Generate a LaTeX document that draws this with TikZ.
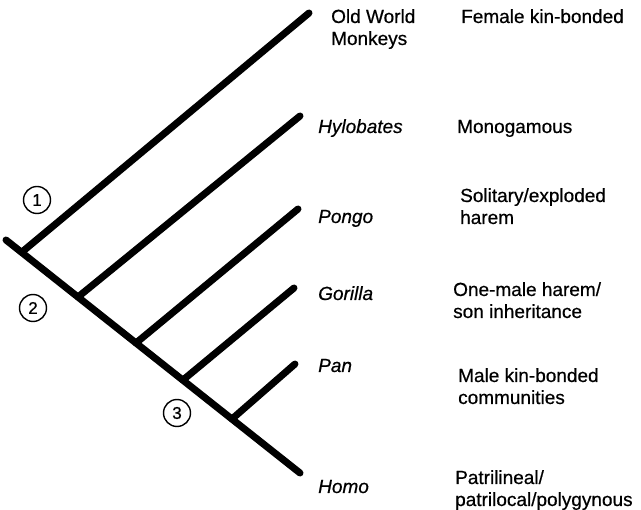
\documentclass[tikz,border=0pt]{standalone}
\usepackage{fontspec}
\setmainfont{Liberation Sans}
\begin{document}
\begin{tikzpicture}[x=1pt,y=-1pt,
  branch/.style={line width=7pt,line cap=round},
  taxon/.style={anchor=base west,inner sep=0pt,font=\fontsize{19}{22}\selectfont\itshape\addfontfeature{FakeBold=0.6}},
  trait/.style={anchor=base west,inner sep=0pt,align=left,font=\fontsize{19}{22}\selectfont\addfontfeature{FakeBold=0.6}},
  num/.style={draw,circle,line width=1.4pt,minimum size=27pt,inner sep=0pt,font=\fontsize{17}{17}\selectfont\addfontfeature{FakeBold=0.8}}]
\useasboundingbox (0,0) rectangle (641,510);
% trunk and branch points
\coordinate (root) at (6,240);
\coordinate (homo) at (300,473);
\coordinate (b1) at (22,252);  \coordinate (t1) at (309,13);
\coordinate (b2) at (78,297);  \coordinate (t2) at (300,116);
\coordinate (b3) at (136,343); \coordinate (t3) at (298,209);
\coordinate (b4) at (183,380); \coordinate (t4) at (294,288);
\coordinate (b5) at (232,419); \coordinate (t5) at (295,364);
\draw[branch] (root) -- (homo);
\draw[branch] (b1) -- (t1);
\draw[branch] (b2) -- (t2);
\draw[branch] (b3) -- (t3);
\draw[branch] (b4) -- (t4);
\draw[branch] (b5) -- (t5);
% taxa (multi-line nodes are placed at the baseline of their last line)
\node[trait] (owm) at (331,45) {Old World\\Monkeys};
\node[taxon] (hyl) at (318,133) {Hylobates};
\node[taxon] (pon) at (318,223) {Pongo};
\node[taxon] (gor) at (318,300) {Gorilla};
\node[taxon] (pan) at (318,372) {Pan};
\node[taxon] (hom) at (318,493) {Homo};
% social systems
\node[trait] (f1) at (461,23) {Female kin-bonded};
\node[trait] (f2) at (457,133) {Monogamous};
\node[trait] (f3) at (460,224) {Solitary/exploded\\harem};
\node[trait] (f4) at (453,318) {One-male harem/\\son inheritance};
\node[trait] (f5) at (458,404) {Male kin-bonded\\communities};
\node[trait] (f6) at (455,506) {Patrilineal/\\patrilocal/polygynous};
% numbered circles
\node[num] (c1) at (37,200) {1};
\node[num] (c2) at (33,308) {2};
\node[num] (c3) at (177,413) {3};
\end{tikzpicture}
\end{document}
